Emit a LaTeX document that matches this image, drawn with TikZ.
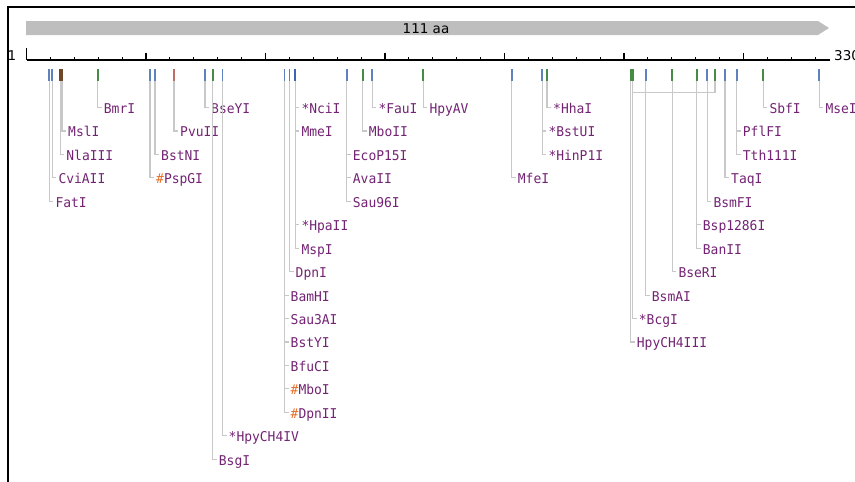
\documentclass[tikz,border=0pt]{standalone}
\usepackage{fontspec}
\newfontfamily\monof[FakeStretch=0.96]{DejaVu Sans Mono}
\newfontfamily\sansf{DejaVu Sans}
\definecolor{mblue}{RGB}{95,130,190}
\definecolor{mbluedk}{RGB}{60,100,180}
\definecolor{mgreen}{RGB}{70,140,70}
\definecolor{mredl}{RGB}{190,110,100}
\definecolor{mred}{RGB}{220,90,50}
\definecolor{mbrown}{RGB}{110,70,40}
\definecolor{gline}{RGB}{200,200,200}
\definecolor{txt}{RGB}{115,35,115}
\definecolor{hash}{RGB}{230,110,40}
\definecolor{barc}{RGB}{190,190,190}
\tikzset{
  marker/.style={line width=1.8pt},
  conn/.style={draw=gline,line width=1.1pt},
  lab/.style={anchor=west,inner xsep=2pt,inner ysep=0pt,text height=11.8pt,text depth=0pt,
    font=\monof\fontsize{13.5}{14}\selectfont,text=txt},
  axlab/.style={anchor=base,inner sep=0pt,font=\sansf\fontsize{13.5}{14}\selectfont},
}
\newcommand\site[3]{\coordinate (#1t) at (#2,69); \coordinate (#1b) at (#2,81);}
\newcommand\sitemark[3]{\draw[marker,draw=#3] (#1t) -- (#1b);}
\newcommand\lab[5]{\node[lab] (#1) at ({#3+4},{108.5+23.45*#4-1}) {#5}; \draw[conn] (#2b) |- (#1.west);}
\newcommand\hs{\textcolor{hash}{\#}}
\begin{document}
\begin{tikzpicture}[x=1pt,y=-1pt]
\useasboundingbox (0,0) rectangle (855,482);
\clip (0,0) rectangle (855,482);
\draw[line width=2pt] (8,7) rectangle (890,520);
% sequence bar
\fill[barc] (26,21) -- (818,21) -- (829,28) -- (818,35) -- (26,35) -- cycle;
\node[font=\sansf\fontsize{13.5}{14}\selectfont,inner sep=0pt] (len) at (426,28.5) {111 aa};
% axis
\coordinate (ax0) at (26.5,60);
\coordinate (ax1) at (830,60);
\draw[line width=1.2pt] (ax0) -- (ax1);
\draw[line width=1.2pt] (26.5,48) -- (ax0);
\foreach \k in {1,...,33}{
  \pgfmathsetmacro\xx{26.5+23.9*\k}
  \pgfmathtruncatemacro\mm{mod(\k,5)}
  \ifnum\mm=0 \draw[line width=1.2pt] (\xx,52.5) -- (\xx,60);
  \else \draw[line width=1pt] (\xx,57) -- (\xx,60); \fi
}
\node[axlab] (one) at (12,60) {1};
\node[axlab,anchor=base west] (end) at (834,60) {330};
% sites
\site{fat}{49.3}{} \site{cvi}{52.3}{} \site{nla}{60.2}{} \site{msl}{62}{}
\site{bmr}{97.7}{} \site{psp}{150}{} \site{bstn}{155}{} \site{pvu}{174}{}
\site{bsey}{205}{} \site{bsg}{212.7}{} \site{hpyf}{222.5}{}
\site{bam}{284.5}{} \site{dpn}{289.5}{} \site{nci}{295.3}{}
\site{eco}{346.7}{} \site{mboii}{362.7}{} \site{fau}{372.3}{} \site{hpyav}{423.3}{}
\site{mfe}{511.7}{} \site{bstu}{542.3}{} \site{hha}{547}{}
\site{hpyt}{630.7}{} \site{bcga}{632.7}{} \site{bsma}{645.7}{} \site{bser}{672.3}{}
\site{bsp}{696.7}{} \site{bsmf}{707.3}{} \site{bcgb}{715}{} \site{taq}{725}{}
\site{pfl}{736.7}{} \site{sbf}{763.3}{} \site{mse}{819.3}{}
% labels and connectors
\lab{FatI}{fat}{49.3}{4}{FatI}
\lab{CviAII}{cvi}{52.3}{3}{CviAII}
\lab{NlaIII}{nla}{60.2}{2}{NlaIII}
\lab{MslI}{msl}{62}{1}{MslI}
\lab{BmrI}{bmr}{97.7}{0}{BmrI}
\lab{PspGI}{psp}{150}{3}{\hs PspGI}
\lab{BstNI}{bstn}{155}{2}{BstNI}
\lab{PvuII}{pvu}{174}{1}{PvuII}
\lab{BseYI}{bsey}{205}{0}{BseYI}
\lab{BsgI}{bsg}{212.7}{15}{BsgI}
\lab{HpyCHIV}{hpyf}{222.5}{14}{*HpyCH4IV}
\lab{BamHI}{bam}{284.5}{8}{BamHI}
\lab{SauAI}{bam}{284.5}{9}{Sau3AI}
\lab{BstYI}{bam}{284.5}{10}{BstYI}
\lab{BfuCI}{bam}{284.5}{11}{BfuCI}
\lab{MboI}{bam}{284.5}{12}{\hs MboI}
\lab{DpnII}{bam}{284.5}{13}{\hs DpnII}
\lab{DpnI}{dpn}{289.5}{7}{DpnI}
\lab{NciI}{nci}{295.3}{0}{*NciI}
\lab{MmeI}{nci}{295.3}{1}{MmeI}
\lab{HpaII}{nci}{295.3}{5}{*HpaII}
\lab{MspI}{nci}{295.3}{6}{MspI}
\lab{EcoPI}{eco}{346.7}{2}{EcoP15I}
\lab{AvaII}{eco}{346.7}{3}{AvaII}
\lab{SauI}{eco}{346.7}{4}{Sau96I}
\lab{MboII}{mboii}{362.7}{1}{MboII}
\lab{FauI}{fau}{372.3}{0}{*FauI}
\lab{HpyAV}{hpyav}{423.3}{0}{HpyAV}
\lab{MfeI}{mfe}{511.7}{3}{MfeI}
\lab{BstUI}{bstu}{542.3}{1}{*BstUI}
\lab{HinPI}{bstu}{542.3}{2}{*HinP1I}
\lab{HhaI}{hha}{547}{0}{*HhaI}
\lab{HpyCHIII}{hpyt}{630.7}{10}{HpyCH4III}
\coordinate (bcgj) at (632.7,92.5);
\draw[conn] (bcgbb) |- (bcgj);
\lab{BcgI}{bcga}{632.7}{9}{*BcgI}
\lab{BsmAI}{bsma}{645.7}{8}{BsmAI}
\lab{BseRI}{bser}{672.3}{7}{BseRI}
\lab{BspI}{bsp}{696.7}{5}{Bsp1286I}
\lab{BanII}{bsp}{696.7}{6}{BanII}
\lab{BsmFI}{bsmf}{707.3}{4}{BsmFI}
\lab{TaqI}{taq}{725}{3}{TaqI}
\lab{PflFI}{pfl}{736.7}{1}{PflFI}
\lab{ThI}{pfl}{736.7}{2}{Tth111I}
\lab{SbfI}{sbf}{763.3}{0}{SbfI}
\lab{MseI}{mse}{819.3}{0}{MseI}
% markers
\sitemark{fat}{}{mblue} \sitemark{cvi}{}{mblue} \sitemark{nla}{}{mbrown} \sitemark{msl}{}{mbrown}
\sitemark{bmr}{}{mgreen} \sitemark{psp}{}{mblue} \sitemark{bstn}{}{mblue} \sitemark{pvu}{}{mredl}
\sitemark{bsey}{}{mblue} \sitemark{bsg}{}{mgreen} \sitemark{hpyf}{}{mblue}
\sitemark{bam}{}{mblue} \sitemark{dpn}{}{mred}
\draw[marker,line width=2.2pt,draw=mbluedk] (ncit) -- (ncib);
\sitemark{eco}{}{mblue} \sitemark{mboii}{}{mgreen} \sitemark{fau}{}{mblue} \sitemark{hpyav}{}{mgreen}
\sitemark{mfe}{}{mblue} \sitemark{bstu}{}{mblue} \sitemark{hha}{}{mgreen}
\sitemark{hpyt}{}{mgreen} \sitemark{bcga}{}{mgreen} \sitemark{bsma}{}{mblue} \sitemark{bser}{}{mgreen}
\sitemark{bsp}{}{mgreen} \sitemark{bsmf}{}{mblue} \sitemark{bcgb}{}{mgreen} \sitemark{taq}{}{mblue}
\sitemark{pfl}{}{mblue} \sitemark{sbf}{}{mgreen} \sitemark{mse}{}{mblue}
\end{tikzpicture}
\end{document}
